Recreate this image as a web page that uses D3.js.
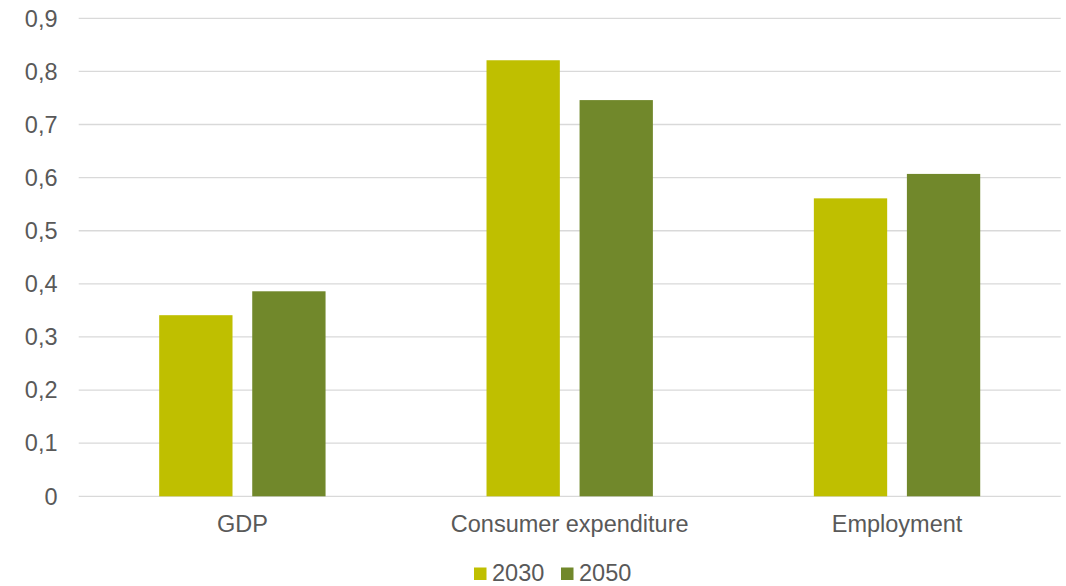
<!DOCTYPE html>
<html>
<head>
<meta charset="utf-8">
<script src="https://cdn.jsdelivr.net/npm/d3@7"></script>
<style>
  body { margin: 0; background: #fff; }
  svg text { font-family: "Liberation Sans", Arial, sans-serif; fill: #595959; }
</style>
</head>
<body>
<svg width="1066" height="586"></svg>
<script>
// ---- data ----
const categories = ["GDP", "Consumer expenditure", "Employment"];
const seriesNames = ["2030", "2050"];
const values2030 = [0.341, 0.821, 0.561];
const values2050 = [0.386, 0.746, 0.607];
const yTicks = [0, 0.1, 0.2, 0.3, 0.4, 0.5, 0.6, 0.7, 0.8, 0.9];

const colors = { "2030": "#bfbf00", "2050": "#71882b" };

const rows = categories.map((c, i) => ({ cat: c, "2030": values2030[i], "2050": values2050[i] }));

// ---- layout ----
const svg = d3.select("svg");
const plotLeft = 78.7, plotRight = 1060.7, plotTop = 18.3, plotBottom = 496.3;
const fontSize = 23.5;

const x0 = d3.scaleBand().domain(categories).range([plotLeft, plotRight]).padding(0);
const x1 = d3.scaleBand().domain(seriesNames).range([0, x0.bandwidth()])
  .paddingInner(0.212).paddingOuter(0.865);
const y = d3.scaleLinear().domain([0, 0.9]).range([plotBottom, plotTop]);

// gridlines
svg.append("g").selectAll("line")
  .data(yTicks)
  .enter().append("line")
  .attr("x1", plotLeft).attr("x2", plotRight)
  .attr("y1", d => y(d)).attr("y2", d => y(d))
  .attr("stroke", "#d9d9d9")
  .attr("stroke-width", 1.3);

// y labels
const fmt = d => d === 0 ? "0" : d3.format(".1f")(d).replace(".", ",");
svg.append("g").selectAll("text")
  .data(yTicks)
  .enter().append("text")
  .attr("x", 57.5)
  .attr("y", d => y(d))
  .attr("dy", "0.35em")
  .attr("text-anchor", "end")
  .style("font-size", fontSize + "px")
  .text(fmt);

// bars
const groups = svg.append("g").selectAll("g")
  .data(rows)
  .enter().append("g")
  .attr("transform", d => "translate(" + x0(d.cat) + ",0)");

groups.selectAll("rect")
  .data(d => seriesNames.map(s => ({ key: s, value: d[s] })))
  .enter().append("rect")
  .attr("x", d => x1(d.key))
  .attr("width", x1.bandwidth())
  .attr("y", d => y(d.value))
  .attr("height", d => y(0) - y(d.value))
  .attr("fill", d => colors[d.key]);

// x labels
svg.append("g").selectAll("text")
  .data(categories)
  .enter().append("text")
  .attr("x", d => x0(d) + x0.bandwidth() / 2)
  .attr("y", 524)
  .attr("dy", "0.35em")
  .attr("text-anchor", "middle")
  .style("font-size", fontSize + "px")
  .text(d => d);

// legend
const legendX = [474, 561];
const legend = svg.append("g").selectAll("g")
  .data(seriesNames)
  .enter().append("g")
  .attr("transform", (d, i) => "translate(" + legendX[i] + ",573)");

legend.append("rect")
  .attr("x", 0).attr("y", -5.5)
  .attr("width", 12.5).attr("height", 12.5)
  .attr("fill", d => colors[d]);

legend.append("text")
  .attr("x", 18)
  .attr("y", 0)
  .attr("dy", "0.35em")
  .style("font-size", fontSize + "px")
  .text(d => d);
</script>
</body>
</html>
